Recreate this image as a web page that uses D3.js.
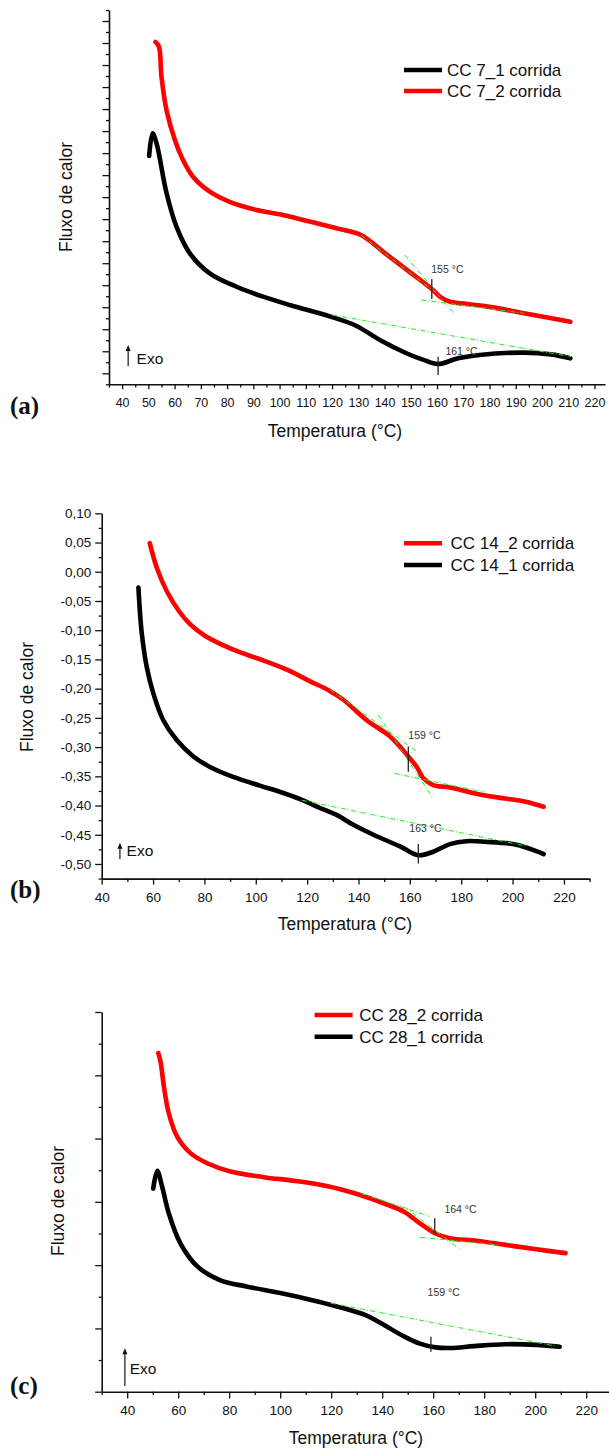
<!DOCTYPE html>
<html>
<head>
<meta charset="utf-8">
<script src="https://cdn.jsdelivr.net/npm/d3@7"></script>
<style>
  body { margin: 0; background: #fff; }
  svg text { font-family: "Liberation Sans", Arial, sans-serif; }
</style>
</head>
<body>
<div id="app"></div>
<script>
// ---------- data ----------
// (a) CC 7
const tempA1 = [50.3, 51.6, 53.1, 56.9, 60.7, 65.8, 73.4, 83.6, 93.7, 103.9, 120.3, 129.3, 138.4, 148.3, 154.6, 160.3, 168.0, 176.2, 193.1, 203.4, 210.8];
const fluxA1 = [9.87, 10.90, 10.45, 8.20, 6.66, 5.45, 4.54, 3.93, 3.48, 3.10, 2.54, 2.15, 1.50, 0.91, 0.62, 0.42, 0.68, 0.83, 0.94, 0.86, 0.68];
const tempA2 = [52.7, 54.0, 55.0, 56.9, 60.1, 63.2, 67.0, 73.4, 81.0, 91.2, 101.3, 111.5, 121.6, 131.0, 140.0, 149.0, 158.0, 161.5, 165.0, 171.2, 178.3, 193.1, 210.8];
const fluxA2 = [15.05, 14.85, 13.47, 11.96, 10.60, 9.69, 8.93, 8.25, 7.79, 7.42, 7.19, 6.89, 6.59, 6.28, 5.47, 4.65, 3.83, 3.45, 3.25, 3.15, 3.05, 2.73, 2.34];

// (b) CC 14
const tempB1 = [54.3, 55.6, 57.5, 60.1, 64.0, 69.2, 75.7, 82.2, 91.2, 101.6, 109.0, 117.3, 124.5, 131.5, 138.0, 145.8, 156.2, 163.3, 169.1, 175.6, 182.1, 189.4, 201.5, 212.1];
const fluxB1 = [-0.027, -0.105, -0.162, -0.208, -0.254, -0.288, -0.316, -0.334, -0.351, -0.366, -0.376, -0.389, -0.403, -0.416, -0.433, -0.450, -0.470, -0.485, -0.479, -0.466, -0.461, -0.462, -0.467, -0.483];
const tempB2 = [58.7, 61.6, 65.3, 70.2, 74.5, 80.0, 87.0, 94.0, 100.5, 112.3, 121.4, 128.5, 134.1, 143.2, 152.3, 159.4, 162.7, 165.2, 169.1, 175.6, 187.3, 197.0, 204.6, 212.1];
const fluxB2 = [0.049, 0.005, -0.033, -0.068, -0.090, -0.109, -0.125, -0.138, -0.148, -0.168, -0.188, -0.203, -0.219, -0.254, -0.282, -0.316, -0.334, -0.353, -0.365, -0.369, -0.381, -0.388, -0.393, -0.402];

// (c) CC 28
const tempC1 = [50.2, 51.8, 53.7, 56.3, 60.9, 67.5, 76.6, 87.1, 100.1, 112.2, 122.8, 133.5, 139.6, 148.7, 154.8, 160.9, 167.0, 176.1, 188.3, 200.5, 209.6];
const fluxC1 = [3.21, 3.49, 3.24, 2.82, 2.34, 1.98, 1.76, 1.66, 1.56, 1.45, 1.34, 1.21, 1.08, 0.87, 0.76, 0.70, 0.69, 0.72, 0.75, 0.74, 0.71];
const tempC2 = [52.2, 53.1, 54.4, 56.3, 59.6, 64.8, 71.4, 80.5, 93.6, 106.0, 118.2, 130.4, 141.1, 148.7, 154.8, 160.9, 167.0, 176.1, 188.3, 200.5, 211.9];
const fluxC2 = [5.35, 5.21, 4.82, 4.40, 4.03, 3.77, 3.61, 3.48, 3.39, 3.33, 3.25, 3.12, 2.97, 2.84, 2.66, 2.50, 2.42, 2.39, 2.32, 2.25, 2.19];

// tangent construction lines [x1, y1, x2, y2]
const tangentsA = [[120, 2.65, 211, 0.76], [131, 6.28, 160, 3.62], [147.7, 5.37, 166.6, 2.69], [154, 3.33, 193, 2.73]];
const tangentsB = [[118, -0.391, 205, -0.469], [129, -0.202, 163, -0.308], [147.7, -0.245, 169.1, -0.388], [154, -0.345, 189, -0.377]];
const tangentsC = [[119.8, 1.40, 208.1, 0.72], [132, 3.13, 158.6, 2.77], [148.7, 2.92, 170.8, 2.24], [154.8, 2.44, 185.3, 2.32]];

// onset / peak markers [x, y1, y2]
const marksA = [[158.0, 4.28, 3.37], [160.4, 0.75, -0.08]];
const marksB = [[159.4, -0.299, -0.342], [163.3, -0.466, -0.499]];
const marksC = [[160.6, 2.74, 2.50], [159.1, 0.87, 0.63]];

// annotation labels [x, y, text]
const notesA = [[157.8, 4.54, "155 °C"], [163.2, 0.83, "161 °C"]];
const notesB = [[159.4, -0.287, "159 °C"], [159.8, -0.445, "163 °C"]];
const notesC = [[164.4, 2.82, "164 °C"], [157.8, 1.52, "159 °C"]];

// axis ticks
const xMajorA = d3.range(40, 221, 10);
const xMinorA = d3.range(35, 225, 10);
const yMajorA = d3.range(0, 17, 1);
const yMinorA = d3.range(-0.5, 17, 1);

const xMajorB = d3.range(40, 221, 20);
const xMinorB = d3.range(50, 231, 20);
const yMajorB = [0.10, 0.05, 0.00, -0.05, -0.10, -0.15, -0.20, -0.25, -0.30, -0.35, -0.40, -0.45, -0.50];
const yMinorB = [0.075, 0.025, -0.025, -0.075, -0.125, -0.175, -0.225, -0.275, -0.325, -0.375, -0.425, -0.475, -0.525];

const xMajorC = d3.range(40, 221, 20);
const xMinorC = d3.range(30, 231, 20);
const yMajorC = d3.range(0, 7, 1);
const yMinorC = d3.range(0.5, 6, 1);

const width = 609, height = 1448;

const svg = d3.select("#app").append("svg")
    .attr("width", width)
    .attr("height", height)
    .style("display", "block");
svg.append("rect").attr("width", width).attr("height", height).attr("fill", "#fff");

function commaFmt(v) {
    if (Math.abs(v) < 1e-9) return "0,00";
    return (v < 0 ? "-" : "") + Math.abs(v).toFixed(2).replace(".", ",");
}

function drawPanel(p) {
    const g = svg.append("g");
    const x = d3.scaleLinear().domain(p.xDomain).range(p.xRange);
    const y = d3.scaleLinear().domain(p.yDomain).range(p.yRange);

    // minor ticks
    g.append("g")
        .attr("transform", "translate(0," + p.yRange[0] + ")")
        .call(d3.axisBottom(x).tickValues(p.xMinor).tickSize(3.3).tickFormat(""))
        .call(a => a.select(".domain").remove());
    g.append("g")
        .attr("transform", "translate(" + p.xRange[0] + ",0)")
        .call(d3.axisLeft(y).tickValues(p.yMinor).tickSize(3).tickFormat(""))
        .call(a => a.select(".domain").remove());

    // major ticks + labels
    const xAxis = g.append("g")
        .attr("transform", "translate(0," + p.yRange[0] + ")")
        .call(d3.axisBottom(x).tickValues(p.xMajor).tickSize(p.xTick).tickSizeOuter(0).tickPadding(p.xPad));
    xAxis.attr("font-size", p.xFont).attr("font-family", null);

    const yAxis = g.append("g")
        .attr("transform", "translate(" + p.xRange[0] + ",0)")
        .call(d3.axisLeft(y).tickValues(p.yMajor).tickSize(6.5).tickSizeOuter(0).tickPadding(4)
            .tickFormat(p.yLabels ? commaFmt : ""));
    yAxis.attr("font-size", p.yFont || 13).attr("font-family", null);

    g.selectAll(".domain").attr("stroke", "#111").attr("stroke-width", 1.6);
    g.selectAll(".tick line").attr("stroke", "#111").attr("stroke-width", 1.3);
    g.selectAll(".tick text").attr("fill", "#111");

    const line = d3.line()
        .x(d => x(d[0]))
        .y(d => y(d[1]))
        .curve(d3.curveCatmullRom.alpha(0.5));

    p.series.forEach(s => {
        g.append("path")
            .datum(d3.zip(s.t, s.f))
            .attr("fill", "none")
            .attr("stroke", s.color)
            .attr("stroke-width", 4.6)
            .attr("stroke-linejoin", "round")
            .attr("stroke-linecap", "round")
            .attr("d", line);
    });

    // tangents
    g.selectAll(".tan").data(p.tangents).enter().append("line")
        .attr("x1", d => x(d[0])).attr("y1", d => y(d[1]))
        .attr("x2", d => x(d[2])).attr("y2", d => y(d[3]))
        .attr("stroke", "#22ee22")
        .attr("stroke-width", 1)
        .attr("stroke-dasharray", "5,2,1,2");

    // markers
    g.selectAll(".mk").data(p.marks).enter().append("line")
        .attr("x1", d => x(d[0])).attr("x2", d => x(d[0]))
        .attr("y1", d => y(d[1])).attr("y2", d => y(d[2]))
        .attr("stroke", "#222")
        .attr("stroke-width", 1.3);

    g.selectAll(".note").data(p.notes).enter().append("text")
        .attr("x", d => x(d[0])).attr("y", d => y(d[1]))
        .attr("font-size", 10.5)
        .attr("fill", "#333")
        .text(d => d[2]);

    // Exo arrow
    const ax = x(p.exo[0]);
    g.append("line")
        .attr("x1", ax).attr("x2", ax)
        .attr("y1", y(p.exo[1])).attr("y2", y(p.exo[2]) + 5)
        .attr("stroke", "#111").attr("stroke-width", 1.2);
    g.append("path")
        .attr("d", "M" + (ax - 2.5) + "," + (y(p.exo[2]) + 6) + "L" + ax + "," + y(p.exo[2]) + "L" + (ax + 2.5) + "," + (y(p.exo[2]) + 6) + "Z")
        .attr("fill", "#111");
    g.append("text")
        .attr("x", x(p.exo[3])).attr("y", y(p.exo[4]))
        .attr("font-size", 15.5)
        .attr("fill", "#111")
        .text("Exo");

    // legend
    p.legend.forEach((it, i) => {
        const ly = p.legendPos[1] + i * p.legendGap;
        g.append("line")
            .attr("x1", p.legendPos[0]).attr("x2", p.legendPos[0] + 38)
            .attr("y1", ly).attr("y2", ly)
            .attr("stroke", it.color).attr("stroke-width", 4.5);
        g.append("text")
            .attr("x", p.legendPos[0] + p.legendTextOff).attr("y", ly)
            .attr("dy", "0.36em")
            .attr("font-size", 17)
            .attr("fill", "#111")
            .text(it.label);
    });

    // axis titles
    g.append("text")
        .attr("x", p.xTitle[0]).attr("y", p.xTitle[1])
        .attr("text-anchor", "middle")
        .attr("font-size", 17.5)
        .attr("fill", "#111")
        .text("Temperatura (°C)");
    g.append("text")
        .attr("transform", "translate(" + p.yTitle[0] + "," + p.yTitle[1] + ") rotate(-90)")
        .attr("text-anchor", "middle")
        .attr("dy", "0.35em")
        .attr("font-size", 17.5)
        .attr("fill", "#111")
        .text("Fluxo de calor");

    // panel letter
    g.append("text")
        .attr("x", 10).attr("y", p.tagY)
        .style("font-family", "'Liberation Serif', 'Times New Roman', serif")
        .attr("font-weight", "bold")
        .attr("font-size", 25)
        .attr("fill", "#111")
        .text(p.tag);
}

drawPanel({
    xDomain: [35, 224], xRange: [109, 605],
    yDomain: [-0.5, 16.5], yRange: [384.3, 10],
    xMajor: xMajorA, xMinor: xMinorA, yMajor: yMajorA, yMinor: yMinorA,
    xTick: 5, xPad: 9, xFont: 12.5, yLabels: false,
    series: [{t: tempA1, f: fluxA1, color: "#000"}, {t: tempA2, f: fluxA2, color: "#ff0000"}],
    tangents: tangentsA, marks: marksA, notes: notesA,
    exo: [42.3, 0.33, 1.29, 45.5, 0.41],
    legend: [{label: "CC 7_1 corrida", color: "#000"}, {label: "CC 7_2 corrida", color: "#ff0000"}],
    legendPos: [404, 70], legendGap: 21, legendTextOff: 43,
    xTitle: [335, 437], yTitle: [66, 197],
    tag: "(a)", tagY: 414
});

drawPanel({
    xDomain: [40, 230], xRange: [101.7, 589.6],
    yDomain: [-0.525, 0.10], yRange: [878.6, 513.3],
    xMajor: xMajorB, xMinor: xMinorB, yMajor: yMajorB, yMinor: yMinorB,
    xTick: 6, xPad: 8, xFont: 13.5, yLabels: true, yFont: 13.5,
    series: [{t: tempB1, f: fluxB1, color: "#000"}, {t: tempB2, f: fluxB2, color: "#ff0000"}],
    tangents: tangentsB, marks: marksB, notes: notesB,
    exo: [47.1, -0.4915, -0.4636, 49.7, -0.486],
    legend: [{label: "CC 14_2 corrida", color: "#ff0000"}, {label: "CC 14_1 corrida", color: "#000"}],
    legendPos: [404, 543.3], legendGap: 21.7, legendTextOff: 46.5,
    xTitle: [345, 930], yTitle: [27, 697],
    tag: "(b)", tagY: 898
});

drawPanel({
    xDomain: [30, 230], xRange: [101.7, 611.7],
    yDomain: [0, 6], yRange: [1391.7, 1012],
    xMajor: xMajorC, xMinor: xMinorC, yMajor: yMajorC, yMinor: yMinorC,
    xTick: 6.7, xPad: 7, xFont: 13.5, yLabels: false,
    series: [{t: tempC1, f: fluxC1, color: "#000"}, {t: tempC2, f: fluxC2, color: "#ff0000"}],
    tangents: tangentsC, marks: marksC, notes: notesC,
    exo: [39.1, 0.09, 0.685, 41.0, 0.28],
    legend: [{label: "CC 28_2 corrida", color: "#ff0000"}, {label: "CC 28_1 corrida", color: "#000"}],
    legendPos: [314.6, 1015], legendGap: 21.7, legendTextOff: 44.6,
    xTitle: [356, 1444], yTitle: [58, 1201],
    tag: "(c)", tagY: 1394
});
</script>
</body>
</html>
